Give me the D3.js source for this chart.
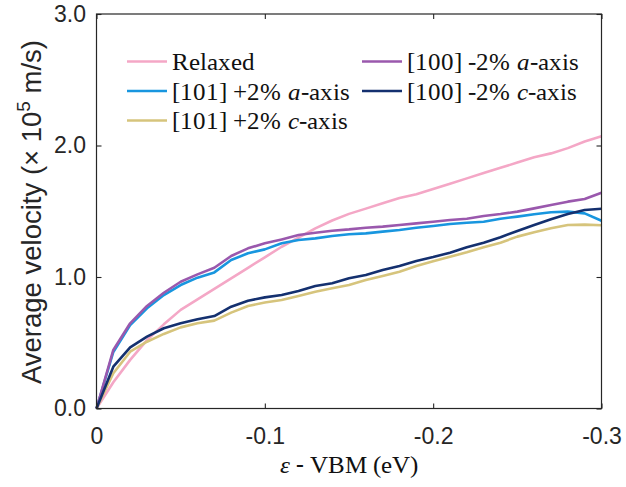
<!DOCTYPE html>
<html>
<head>
<meta charset="utf-8">
<script src="https://cdn.jsdelivr.net/npm/d3@7"></script>
<style>
@font-face { font-family: "LegSerif"; font-style: normal; font-weight: 400;
  src: local("Liberation Serif"), local("LiberationSerif"), local("LiberationSerif-Regular"), local("Times New Roman"); }
@font-face { font-family: "LegSerif"; font-style: italic; font-weight: 400;
  src: local("Liberation Serif Italic"), local("LiberationSerif-Italic"), local("Times New Roman Italic"); }
</style>
</head>
<body style="margin:0">
<svg id="chart" width="626" height="487"></svg>
<script>
// ---- Data ----
const energy = [0, -0.01, -0.02, -0.03, -0.04, -0.05, -0.06, -0.07, -0.08, -0.09, -0.10,
  -0.11, -0.12, -0.13, -0.14, -0.15, -0.16, -0.17, -0.18, -0.19, -0.20,
  -0.21, -0.22, -0.23, -0.24, -0.25, -0.26, -0.27, -0.28, -0.29, -0.30];

const relaxed = [0, 0.20, 0.37, 0.52, 0.64, 0.75, 0.83, 0.91, 0.99, 1.07, 1.15,
  1.23, 1.30, 1.37, 1.43, 1.48, 1.52, 1.56, 1.60, 1.63, 1.67,
  1.71, 1.75, 1.79, 1.83, 1.87, 1.91, 1.94, 1.98, 2.03, 2.07];

const a101 = [0, 0.43, 0.635, 0.762, 0.863, 0.939, 0.995, 1.035, 1.129, 1.18, 1.21,
  1.256, 1.281, 1.294, 1.312, 1.325, 1.332, 1.345, 1.357, 1.375, 1.388,
  1.403, 1.413, 1.42, 1.443, 1.459, 1.477, 1.492, 1.497, 1.484, 1.428];

const c101 = [0, 0.268, 0.432, 0.508, 0.567, 0.617, 0.648, 0.668, 0.729, 0.779, 0.806,
  0.825, 0.856, 0.888, 0.914, 0.939, 0.977, 1.008, 1.04, 1.084, 1.12,
  1.154, 1.188, 1.226, 1.261, 1.307, 1.34, 1.37, 1.395, 1.398, 1.394];

const a100 = [0, 0.445, 0.648, 0.78, 0.88, 0.964, 1.02, 1.07, 1.16, 1.218, 1.256,
  1.286, 1.319, 1.337, 1.352, 1.362, 1.375, 1.383, 1.395, 1.408, 1.42,
  1.433, 1.443, 1.464, 1.479, 1.497, 1.522, 1.548, 1.573, 1.593, 1.641];

const c100 = [0, 0.318, 0.465, 0.546, 0.61, 0.648, 0.678, 0.703, 0.774, 0.82, 0.845,
  0.863, 0.894, 0.932, 0.952, 0.99, 1.015, 1.053, 1.084, 1.122, 1.152,
  1.185, 1.226, 1.261, 1.302, 1.35, 1.395, 1.439, 1.479, 1.509, 1.519];

const seriesNames = ["Relaxed", "[101] +2% a-axis", "[101] +2% c-axis", "[100] -2% a-axis", "[100] -2% c-axis"];
const seriesValues = [relaxed, a101, c101, a100, c100];
const seriesColors = ["#f4a7c6", "#1896df", "#d6c47c", "#9a58ad", "#14306f"];

const xTicks = [0, -0.1, -0.2, -0.3];
const xTickLabels = ["0", "-0.1", "-0.2", "-0.3"];
const yTicks = [0, 1, 2, 3];
const yTickLabels = ["0.0", "1.0", "2.0", "3.0"];

// ---- Layout ----
const SERIF = '"LegSerif", "Liberation Serif", "Times New Roman"';
const SANS = '"Liberation Sans"';
const svg = d3.select("#chart");
const L = 96.5, R = 601.5, T = 14, B = 408.5;
const x = d3.scaleLinear().domain([0, -0.3]).range([L, R]);
const y = d3.scaleLinear().domain([0, 3]).range([B, T]);
const axisColor = "#262626";

// Lines
const line = d3.line().x((d, i) => x(energy[i])).y(d => y(d));
svg.append("g").selectAll("path").data(seriesValues).join("path")
  .attr("d", d => line(d))
  .attr("fill", "none")
  .attr("stroke", (d, i) => seriesColors[i])
  .attr("stroke-width", 2.6)
  .attr("stroke-linejoin", "round");

// Axes
function styleAxis(g) {
  g.select(".domain").remove();
  g.attr("font-family", null).attr("font-size", null);
  g.selectAll(".tick line").attr("stroke", axisColor).attr("stroke-width", 1.1);
  g.selectAll("text").attr("fill", axisColor).attr("font-family", SANS).attr("font-size", 23);
}
svg.append("g").attr("transform", `translate(0,${B})`)
  .call(d3.axisBottom(x).tickValues(xTicks).tickSize(-5).tickPadding(19)
    .tickFormat((d, i) => xTickLabels[i]))
  .call(styleAxis);
svg.append("g").attr("transform", `translate(0,${T})`)
  .call(d3.axisTop(x).tickValues(xTicks).tickSize(-5).tickFormat(""))
  .call(styleAxis);
svg.append("g").attr("transform", `translate(${L},0)`)
  .call(d3.axisLeft(y).tickValues(yTicks).tickSize(-5).tickPadding(10.5)
    .tickFormat((d, i) => yTickLabels[i]))
  .call(styleAxis);
svg.append("g").attr("transform", `translate(${R},0)`)
  .call(d3.axisRight(y).tickValues(yTicks).tickSize(-5).tickFormat(""))
  .call(styleAxis);

// Box
svg.append("rect").attr("x", L).attr("y", T).attr("width", R - L).attr("height", B - T)
  .attr("fill", "none").attr("stroke", axisColor).attr("stroke-width", 1.2);

// Run of text pieces, each its own <text>, laid out left to right
function textRun(g, x0, y0, parts, size, fill, center) {
  const nodes = [];
  let cx = x0;
  parts.forEach(p => {
    const t = g.append("text").attr("x", cx).attr("y", y0)
      .attr("font-family", p.family).attr("font-size", size)
      .attr("font-style", p.italic ? "italic" : "normal")
      .attr("fill", fill).text(p.text);
    const w = t.node().getComputedTextLength();
    nodes.push(t);
    cx += w + (p.gap || 0);
  });
  if (center) {
    const shift = (cx - x0) / 2;
    nodes.forEach(t => t.attr("x", +t.attr("x") - shift));
  }
}

function drawText() {
  const lg = svg.append("g");
  const legendParts = [
    [{ text: "Relaxed", family: SERIF }],
    [{ text: "[101]", family: SERIF, gap: 6 }, { text: "+2%", family: SERIF, gap: 7 }, { text: "a", family: SERIF, italic: true }, { text: "-axis", family: SERIF }],
    [{ text: "[101]", family: SERIF, gap: 6 }, { text: "+2%", family: SERIF, gap: 7 }, { text: "c", family: SERIF, italic: true }, { text: "-axis", family: SERIF }],
    [{ text: "[100]", family: SERIF, gap: 6 }, { text: "-2%", family: SERIF, gap: 7 }, { text: "a", family: SERIF, italic: true }, { text: "-axis", family: SERIF }],
    [{ text: "[100]", family: SERIF, gap: 6 }, { text: "-2%", family: SERIF, gap: 7 }, { text: "c", family: SERIF, italic: true }, { text: "-axis", family: SERIF }]
  ];
  const legendCol = [0, 0, 0, 1, 1];
  const legendRow = [0, 1, 2, 0, 1];
  const colX = [127, 362];
  const rowY = [61.5, 91, 120.5];
  seriesNames.forEach((name, i) => {
    const lx = colX[legendCol[i]], ly = rowY[legendRow[i]];
    lg.append("line").attr("x1", lx).attr("x2", lx + 40).attr("y1", ly).attr("y2", ly)
      .attr("stroke", seriesColors[i]).attr("stroke-width", 2.6);
    textRun(lg, lx + 44.5, ly + 8.5, legendParts[i], 25, "#111", false);
  });

  // X label
  textRun(svg, (L + R) / 2, 473, [
    { text: "\u03b5", family: SERIF, italic: true, gap: 6 },
    { text: "-", family: SANS, gap: 6 },
    { text: "VBM (eV)", family: SERIF }
  ], 25, "#111", true);
}
if (document.fonts && document.fonts.load) {
  Promise.all([document.fonts.load('25px "LegSerif"'), document.fonts.load('italic 25px "LegSerif"')])
    .then(drawText, drawText);
} else {
  drawText();
}

// Y label
const yl = svg.append("text")
  .attr("transform", `translate(41,212) rotate(-90)`)
  .attr("text-anchor", "middle").attr("font-family", SANS).attr("font-size", 27.5)
  .attr("fill", "#262626");
yl.append("tspan").text("Average velocity (\u00d7 10");
yl.append("tspan").text("5").attr("dy", -11).attr("font-size", 19);
yl.append("tspan").text("\u00a0m/s)").attr("dy", 11);
</script>
</body>
</html>
